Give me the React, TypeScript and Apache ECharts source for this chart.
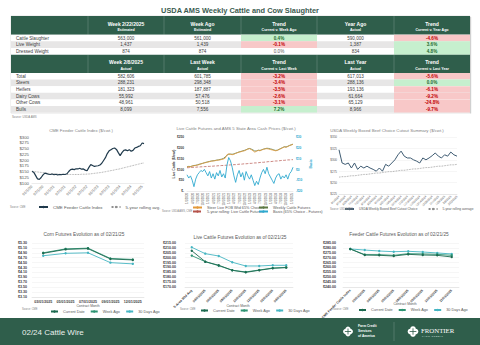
import { useEffect, useRef } from "react";
import * as echarts from "echarts";

const FONT = "'Liberation Sans', Arial, sans-serif";
const GREEN = "#2F5E4B";
const GREY_TXT = "#595959";

// ---------- Table data ----------
const t1Headers = [["", ""], ["Week 2/22/2025", "Estimated"], ["Week Ago", "Estimated"], ["Trend", "Current v. Week Ago"], ["Year Ago", "Actual"], ["Trend", "Current v. Year Ago"]];
const t1Rows = ["Cattle Slaughter", "Live Weight", "Dressed Weight"];
const t1Current = ["563,000", "1,437", "874"];
const t1Prior = ["561,000", "1,439", "874"];
const t1TrendPrior = ["0.4%", "-0.1%", "0.0%"];
const t1TrendPriorTone = ["pos", "neg", "zero"];
const t1YearAgo = ["590,000", "1,387", "834"];
const t1TrendYear = ["-4.6%", "3.6%", "4.8%"];
const t1TrendYearTone = ["neg", "pos", "pos"];

const t2Headers = [["", ""], ["Week 2/8/2025", "Actual"], ["Last Week", "Actual"], ["Trend", "Current v. Last Week"], ["Last Year", "Actual"], ["Trend", "Current v. Last Year"]];
const t2Rows = ["Total", "Steers", "Heifers", "Dairy Cows", "Other Cows", "Bulls"];
const t2Current = ["582,606", "288,231", "181,323", "55,992", "48,961", "8,099"];
const t2Prior = ["601,785", "298,348", "187,887", "57,476", "50,518", "7,556"];
const t2TrendPrior = ["-3.2%", "-3.4%", "-3.5%", "-2.6%", "-3.1%", "7.2%"];
const t2TrendPriorTone = ["neg", "neg", "neg", "neg", "neg", "pos"];
const t2YearAgo = ["617,013", "288,136", "193,136", "61,664", "65,129", "8,966"];
const t2TrendYear = ["-5.6%", "0.0%", "-6.1%", "-9.2%", "-24.8%", "-9.7%"];
const t2TrendYearTone = ["neg", "pos", "neg", "neg", "neg", "neg"];

// ---------- Chart data ----------
const years = [2020, 2021, 2022, 2023, 2024, 2025];
const monthsPerYear = [12, 12, 12, 12, 12, 2];
const cmeCats: string[] = [];
const lcMonthCats: string[] = [];
years.forEach((y, i) => {
  for (let m = 1; m <= monthsPerYear[i]; m++) {
    cmeCats.push(`${String(m).padStart(2, "0")}/1/${String(y).slice(2)}`);
    lcMonthCats.push(`${m}/1/${y}`);
  }
});

const cmeIndex = [151, 146, 132, 118, 116, 124, 135, 143, 141, 138, 137, 139, 136, 138, 135, 137, 136, 138, 137, 140, 150, 158, 160, 158, 162, 161, 164, 160, 161, 156, 153, 168, 180, 176, 172, 174, 175, 178, 186, 198, 210, 228, 240, 245, 250, 252, 246, 232, 219, 232, 242, 244, 240, 245, 238, 242, 252, 255, 259, 262, 274, 271];
const cmeRolling = [151, 150, 149, 148, 147, 146, 145, 144, 143, 142, 141, 140, 140, 139, 139, 138, 138, 138, 137, 137, 137, 137, 137, 137, 137, 137, 137, 138, 138, 138, 139, 139, 140, 141, 142, 143, 144, 145, 146, 148, 149, 151, 152, 154, 155, 157, 159, 160, 162, 164, 166, 168, 170, 172, 174, 176, 178, 180, 182, 184, 186, 187];

const lcCash = [111, 113, 112, 115, 117, 118, 120, 122, 125, 128, 130, 132, 134, 136, 138, 139, 140, 142, 143, 144, 146, 148, 152, 168, 172, 170, 168, 170, 174, 177, 180, 182, 184, 186, 190, 194, 196, 192, 186, 180, 184, 188, 186, 190, 193, 195, 196, 194, 192, 190, 188, 186, 188, 192, 196, 200, 204, 202, 206, 210, 213, 216];
const lcFutures = [112, 114, 113, 116, 118, 119, 121, 124, 126, 128, 131, 133, 135, 137, 139, 140, 141, 143, 144, 146, 148, 151, 158, 165, 170, 171, 170, 172, 175, 178, 181, 183, 186, 188, 191, 195, 197, 194, 190, 185, 186, 189, 188, 191, 194, 196, 198, 197, 195, 193, 190, 188, 189, 193, 197, 201, 205, 204, 207, 211, 214, 217];
const lcRolling = [108, 108, 109, 109, 110, 110, 111, 111, 112, 112, 113, 113, 114, 114, 115, 115, 116, 116, 117, 117, 118, 118, 119, 119, 120, 121, 121, 122, 122, 123, 124, 124, 125, 126, 126, 127, 128, 128, 129, 130, 130, 131, 132, 133, 133, 134, 135, 136, 136, 137, 138, 139, 139, 140, 141, 142, 142, 143, 144, 144, 145, 145];
const lcBasis = [-5, -8, -6, -10, -16, -9, -5, -3, -1, -2, 0, -3, -6, -2, -8, -4, -9, -3, -6, -1, -7, -4, -8, 4, 11, 8, 2, -6, -12, -5, -1, -7, -3, -10, -2, -6, -9, -5, -10, -15, -11, -14, -8, -3, 0, -4, 2, -4, -7, -10, -13, -8, -5, -4, -9, -6, -8, -5, -9, -4, -2, 2];

const beefWeeks = ["6/1/2024", "6/8/2024", "6/15/2024", "6/22/2024", "6/29/2024", "7/6/2024", "7/13/2024", "7/20/2024", "7/27/2024", "8/3/2024", "8/10/2024", "8/17/2024", "8/24/2024", "8/31/2024", "9/7/2024", "9/14/2024", "9/21/2024", "9/28/2024", "10/5/2024", "10/12/2024", "10/19/2024", "10/26/2024", "11/2/2024", "11/9/2024", "11/16/2024", "11/23/2024", "11/30/2024", "12/7/2024", "12/14/2024", "12/21/2024", "12/28/2024", "1/4/2025", "1/11/2025", "1/18/2025", "1/25/2025", "2/1/2025", "2/8/2025", "2/15/2025", "2/22/2025"];
const beefCutout = [322, 293, 290, 293, 282, 293, 279, 286, 282, 286, 282, 279, 275, 282, 275, 290, 286, 293, 300, 311, 319, 308, 304, 304, 300, 297, 293, 304, 300, 304, 309, 315, 308, 304, 311, 308, 317, 311, 308];
const beefRolling = [262, 263, 263, 264, 265, 265, 266, 267, 268, 268, 269, 270, 271, 271, 272, 273, 274, 274, 275, 276, 277, 277, 278, 279, 280, 280, 281, 282, 283, 283, 284, 285, 286, 286, 287, 288, 289, 289, 290];

const cornMonths = ["03/01/2025", "05/01/2025", "07/01/2025", "09/01/2025", "12/01/2025"];
const cornCurrent = [4.88, 5.04, 5.07, 4.65, 4.61];
const cornWeekAgo = [4.9, 5.06, 5.09, 4.67, 4.63];
const corn30Days = [4.78, 4.88, 4.9, 4.5, 4.45];

const lcContracts = ["5-Area Wtd Avg", "04/01/2025", "06/01/2025", "08/01/2025", "10/01/2025", "12/01/2025", "02/01/2026", "04/01/2026"];
const lcCurrent = [207.1, 195.9, 192.2, 187.1, 185.0, 187.1, 189.1, 189.8];
const lcWeekAgo = [202.1, 195.9, 191.8, 187.1, 185.4, 187.4, 189.4, 190.1];
const lc30Days = [210.6, 204.1, 201.7, 195.3, 191.5, 191.5, 192.2, 192.2];

const fcContracts = ["CME Feeder Cattle Index", "03/01/2025", "04/01/2025", "05/01/2025", "08/01/2025", "09/01/2025", "10/01/2025", "11/01/2025"];
const fcCurrent = [278.9, 272.7, 272.4, 271.7, 273.4, 272.7, 272.4, 270.7];
const fcWeekAgo = [278.9, 273.1, 273.1, 272.4, 274.1, 273.8, 273.4, 272.4];
const fc30Days = [278.9, 277.8, 276.8, 276.1, 276.5, 275.8, 274.8, 273.8];

// ---------- helpers ----------
function txt(x: number, y: number, text: string, size: number, color: string, o: any = {}) {
  const align = o.align || "left";
  return {
    type: "text", x, y, rotation: o.rotation || 0, silent: true, z: o.z || 10,
    style: {
      text, fill: color, fontSize: size, fontFamily: o.family || FONT,
      fontWeight: o.bold ? "bold" : "normal",
      align, verticalAlign: "middle", textAlign: align, textVerticalAlign: "middle",
    },
  };
}
function rect(x: number, y: number, w: number, h: number, fill: string, stroke?: string) {
  return { type: "rect", silent: true, z: 1, shape: { x, y, width: w, height: h }, style: { fill, stroke: stroke || null, lineWidth: stroke ? 0.5 : 0 } };
}
function line(x1: number, y1: number, x2: number, y2: number, color: string, w = 0.5) {
  return { type: "line", silent: true, z: 2, shape: { x1, y1, x2, y2 }, style: { stroke: color, lineWidth: w } };
}

const colX = [11, 88, 164, 241, 317, 394, 470];

function buildTable(top: number, headH: number, rowH: number, headers: string[][], rows: string[], cols: string[][], tones: (string[] | null)[]) {
  const els: any[] = [];
  els.push(rect(colX[0], top, colX[6] - colX[0], headH, GREEN));
  headers.forEach((h, c) => {
    const cx = (colX[c] + colX[c + 1]) / 2;
    if (h[0]) els.push(txt(cx, top + headH * 0.42, h[0], 5, "#FFFFFF", { align: "center", bold: true }));
    if (h[1]) els.push(txt(cx, top + headH * 0.77, h[1], 3.6, "#FFFFFF", { align: "center", bold: true }));
    if (c > 0) els.push(line(colX[c], top, colX[c], top + headH, "rgba(255,255,255,0.35)", 0.5));
  });
  rows.forEach((r, i) => {
    const y = top + headH + i * rowH;
    const bg = i % 2 === 0 ? "#FFFFFF" : "#E7E6E6";
    els.push(rect(colX[0], y, colX[6] - colX[0], rowH, bg));
    els.push(txt(colX[0] + 5, y + rowH / 2, r, 4.6, "#404040"));
    cols.forEach((col, c) => {
      const cx = (colX[c + 1] + colX[c + 2]) / 2;
      const tone = tones[c] ? tones[c]![i] : null;
      let color = "#404040";
      let bold = false;
      if (tone === "pos") {
        els.push(rect(colX[c + 1], y, colX[c + 2] - colX[c + 1], rowH, "#C6EFCE"));
        color = "#1E6B2E"; bold = true;
      } else if (tone === "neg") {
        els.push(rect(colX[c + 1], y, colX[c + 2] - colX[c + 1], rowH, "#F8C8C8"));
        color = "#C00000"; bold = true;
      } else if (tone === "zero") {
        color = "#595959";
      }
      els.push(txt(cx, y + rowH / 2, col[i], 4.6, color, { align: "center", bold }));
    });
  });
  return els;
}

function flower(cx: number, cy: number, r: number) {
  const els: any[] = [];
  [[0, -1], [1, 0], [0, 1], [-1, 0]].forEach(([dx, dy]) => {
    els.push({ type: "circle", silent: true, z: 5, shape: { cx: cx + dx * r * 0.9, cy: cy + dy * r * 0.9, r: r }, style: { fill: "#FFFFFF" } });
  });
  els.push({ type: "rect", silent: true, z: 6, shape: { x: cx - 0.4, y: cy - r * 1.2, width: 0.8, height: r * 2.4 }, style: { fill: GREEN } });
  els.push({ type: "rect", silent: true, z: 6, shape: { x: cx - r * 1.2, y: cy - 0.4, width: r * 2.4, height: 0.8 }, style: { fill: GREEN } });
  return els;
}

function buildOption() {
  const axisLbl = { fontSize: 3.8, color: GREY_TXT, fontFamily: FONT };
  const split = { show: true, lineStyle: { color: "#EDEDED", width: 0.5 } };
  const noLine = { show: false };
  const xLine = { show: true, lineStyle: { color: "#D9D9D9", width: 0.5 } };
  const grid = (left: number, top: number, width: number, height: number) => ({ left, top, width, height, containLabel: false, outerBoundsMode: "none" });
  const legendText = { fontSize: 3.8, color: GREY_TXT, fontFamily: FONT };
  const mkLegend = (left: number, top: number, data: string[], extra: any = {}) => ({
    left, top, data, itemWidth: 9, itemHeight: 3, itemGap: 6, padding: 0, textStyle: legendText, selectedMode: false, ...extra,
  });
  const evoSeries = (xi: number, yi: number, cur: number[], wk: number[], d30: number[]) => [
    { name: "30 Days Ago", type: "line", xAxisIndex: xi, yAxisIndex: yi, data: d30, symbol: "circle", symbolSize: 2.4, itemStyle: { color: "#45B5C2" }, lineStyle: { width: 0.9, color: "#45B5C2" } },
    { name: "Week Ago", type: "line", xAxisIndex: xi, yAxisIndex: yi, data: wk, symbol: "circle", symbolSize: 2.4, itemStyle: { color: "#2E9473" }, lineStyle: { width: 0.9, color: "#2E9473" } },
    { name: "Current Date", type: "line", xAxisIndex: xi, yAxisIndex: yi, data: cur, symbol: "circle", symbolSize: 2.4, itemStyle: { color: "#1C6A50" }, lineStyle: { width: 0.9, color: "#1C6A50" } },
  ];
  const evoLegendData = ["Current Date", "Week Ago", "30 Days Ago"];

  const graphic: any[] = [];
  graphic.push(txt(240, 10.5, "USDA AMS Weekly Cattle and Cow Slaughter", 7.4, "#3B5B50", { align: "center", bold: true }));
  graphic.push(rect(colX[0], 16, colX[6] - colX[0], 97, "#FFFFFF", "#C9C9C9"));
  graphic.push(...buildTable(16, 18.7, 6.67, t1Headers, t1Rows, [t1Current, t1Prior, t1TrendPrior, t1YearAgo, t1TrendYear], [null, null, t1TrendPriorTone, null, t1TrendYearTone]));
  graphic.push(...buildTable(54.7, 18.3, 6.6, t2Headers, t2Rows, [t2Current, t2Prior, t2TrendPrior, t2YearAgo, t2TrendYear], [null, null, t2TrendPriorTone, null, t2TrendYearTone]));
  graphic.push(rect(colX[6], 17, 1.2, 96.5, "#D0D0D0"));
  graphic.push(txt(12, 117, "Source: USDA AMS", 2.8, "#7F7F7F"));

  // chart titles
  graphic.push(txt(81, 130, "CME Feeder Cattle Index ($/cwt.)", 4.3, "#7F7F7F", { align: "center" }));
  graphic.push(txt(236, 128.5, "Live Cattle Futures and AMS 5 State Area Cash Prices ($/cwt.)", 4.3, "#7F7F7F", { align: "center" }));
  graphic.push(txt(387, 130, "USDA Weekly Boxed Beef Choice Cutout Summary ($/cwt.)", 4.3, "#7F7F7F", { align: "center" }));
  graphic.push(txt(84, 234, "Corn Futures Evolution as of 02/21/25", 4.8, GREY_TXT, { align: "center" }));
  graphic.push(txt(240, 237, "Live Cattle Futures Evolution as of 02/21/25", 4.8, GREY_TXT, { align: "center" }));
  graphic.push(txt(399, 234, "Feeder Cattle Futures Evolution as of 02/21/25", 4.8, GREY_TXT, { align: "center" }));

  // axis names
  graphic.push(txt(174, 164, "Live Cattle ($/cwt)", 3.4, "#404040", { align: "center", bold: true, rotation: Math.PI / 2 }));
  graphic.push(txt(311, 164, "Basis", 3.4, "#2FA9CF", { align: "center", bold: true, rotation: Math.PI / 2 }));
  graphic.push(txt(88, 305.5, "Contract Month", 3.4, GREY_TXT, { align: "center" }));
  graphic.push(txt(238, 305.5, "Contract Month", 3.4, GREY_TXT, { align: "center" }));
  graphic.push(txt(405, 303.5, "Contract Month", 3.4, GREY_TXT, { align: "center" }));

  // sources
  graphic.push(txt(10, 207, "Source: CME", 2.6, "#7F7F7F"));
  graphic.push(txt(162, 211, "Source: USDA AMS, CME", 2.6, "#7F7F7F"));
  graphic.push(txt(330, 209, "Source: USDA AMS", 2.6, "#7F7F7F"));
  graphic.push(txt(22, 309, "Source: CME", 2.6, "#7F7F7F"));
  graphic.push(txt(180, 309, "Source: CME", 2.6, "#7F7F7F"));
  graphic.push(txt(333, 309, "Source: CME", 2.6, "#7F7F7F"));

  // footer
  graphic.push(rect(0, 318, 480, 27, GREEN));
  graphic.push(txt(22, 332, "02/24 Cattle Wire", 8, "#EAF0EC"));
  graphic.push(...flower(348, 331.5, 2.6));
  graphic.push(txt(358, 326, "Farm Credit", 3.3, "#FFFFFF", { bold: true }));
  graphic.push(txt(358, 331, "Services", 3.3, "#FFFFFF", { bold: true }));
  graphic.push(txt(358, 336, "of America", 3.3, "#FFFFFF", { bold: true }));
  graphic.push({ ...line(394, 322, 394, 341, "rgba(255,255,255,0.35)", 0.5), z: 5 });
  graphic.push(...flower(413, 331.5, 2.8));
  graphic.push(txt(421, 330, "FRONTIER", 6.8, "#FFFFFF", { family: "'Liberation Serif', serif" }));
  graphic.push(txt(422, 336, "F A R M   C R E D I T", 2.2, "#DDE6E0"));

  return {
    animation: false,
    backgroundColor: "#FFFFFF",
    textStyle: { fontFamily: FONT },
    graphic: { elements: graphic },
    grid: [
      grid(32, 137, 112, 46),
      grid(187, 137, 106, 54),
      grid(339, 137, 118, 57),
      grid(32, 243, 112, 54),
      grid(185, 243, 108, 44),
      grid(343, 243, 116, 44),
    ],
    legend: [
      mkLegend(38, 205, ["CME Feeder Cattle Index", "5-year rolling avg."], { itemGap: 8, textStyle: { ...legendText, fontSize: 4.4 } }),
      mkLegend(192, 205.5, ["Steer Live FOB Wtd 65% Choice"]),
      mkLegend(258, 205.5, ["Weekly Cattle Futures"]),
      mkLegend(192, 209.5, ["5-year rolling: Live Cattle Futures"]),
      mkLegend(258, 209.5, ["Basis (65% Choice - Futures)"]),
      mkLegend(344, 207.5, ["USDA Weekly Boxed Beef Cutout Choice", "5-year rolling average"], { itemGap: 10, textStyle: { ...legendText, fontSize: 3.2 } }),
      mkLegend(50, 309.5, evoLegendData, { itemGap: 5, itemWidth: 7 }),
      mkLegend(200, 308.5, evoLegendData, { itemGap: 5, itemWidth: 7 }),
      mkLegend(358, 308, evoLegendData, { itemGap: 5, itemWidth: 7 }),
    ],
    xAxis: [
      { type: "category", gridIndex: 0, data: cmeCats, boundaryGap: false, axisLine: xLine, axisTick: noLine, axisLabel: { ...axisLbl, interval: 5, rotate: 45, margin: 3 } },
      { type: "category", gridIndex: 1, data: lcMonthCats, boundaryGap: false, axisLine: xLine, axisTick: noLine, axisLabel: { ...axisLbl, fontSize: 2.8, interval: 2, rotate: 90, margin: 2 } },
      { type: "category", gridIndex: 2, data: beefWeeks, boundaryGap: false, axisLine: xLine, axisTick: noLine, axisLabel: { ...axisLbl, fontSize: 2.8, interval: 1, rotate: 45, margin: 2 } },
      { type: "category", gridIndex: 3, data: cornMonths, boundaryGap: true, axisLine: xLine, axisTick: noLine, axisLabel: { ...axisLbl, color: "#404040", fontWeight: "bold", fontSize: 3.6, interval: 0, margin: 3 } },
      { type: "category", gridIndex: 4, data: lcContracts, boundaryGap: true, axisLine: xLine, axisTick: noLine, axisLabel: { ...axisLbl, color: "#404040", fontWeight: "bold", fontSize: 3.4, interval: 0, rotate: 45, margin: 3 } },
      { type: "category", gridIndex: 5, data: fcContracts, boundaryGap: true, axisLine: xLine, axisTick: noLine, axisLabel: { ...axisLbl, color: "#404040", fontWeight: "bold", fontSize: 3.4, interval: 0, rotate: 45, margin: 3 } },
    ],
    yAxis: [
      { type: "value", gridIndex: 0, min: 100, max: 300, interval: 25, axisLine: noLine, axisTick: noLine, splitLine: { show: false }, axisLabel: { ...axisLbl, fontSize: 4.3, margin: 3, formatter: (v: number) => "$" + v } },
      { type: "value", gridIndex: 1, min: 0, max: 250, interval: 50, axisLine: noLine, axisTick: noLine, splitLine: { show: false }, axisLabel: { ...axisLbl, fontSize: 3.2, fontWeight: "bold", color: "#404040", margin: 3, formatter: (v: number) => (v === 0 ? "$-" : "$" + v) } },
      { type: "value", gridIndex: 1, position: "right", min: -20, max: 30, interval: 10, axisLine: noLine, axisTick: noLine, splitLine: { show: false }, axisLabel: { ...axisLbl, fontSize: 3.2, fontWeight: "bold", color: "#2FA9CF", margin: 3, formatter: (v: number) => (v < 0 ? "-$" + Math.abs(v) : "$" + v) } },
      { type: "value", gridIndex: 2, min: 225, max: 350, interval: 25, axisLine: noLine, axisTick: noLine, splitLine: split, axisLabel: { ...axisLbl, fontSize: 3, margin: 2, formatter: (v: number) => "$" + v } },
      { type: "value", gridIndex: 3, min: 3.1, max: 5.3, interval: 0.2, axisLine: noLine, axisTick: noLine, splitLine: split, axisLabel: { ...axisLbl, color: "#404040", fontWeight: "bold", fontSize: 3.6, margin: 5, formatter: (v: number) => "$" + v.toFixed(2) } },
      { type: "value", gridIndex: 4, min: 170, max: 215, interval: 5, axisLine: noLine, axisTick: noLine, splitLine: split, axisLabel: { ...axisLbl, color: "#404040", fontWeight: "bold", fontSize: 3.6, margin: 9, formatter: (v: number) => "$" + v.toFixed(2) } },
      { type: "value", gridIndex: 5, min: 240, max: 285, interval: 5, axisLine: noLine, axisTick: noLine, splitLine: split, axisLabel: { ...axisLbl, color: "#404040", fontWeight: "bold", fontSize: 3.6, margin: 7, formatter: (v: number) => "$" + v.toFixed(2) } },
    ],
    series: [
      { name: "5-year rolling avg.", type: "line", xAxisIndex: 0, yAxisIndex: 0, data: cmeRolling, symbol: "none", itemStyle: { color: "#8F8F8F" }, lineStyle: { color: "#8F8F8F", width: 0.8, type: "dotted" } },
      { name: "CME Feeder Cattle Index", type: "line", xAxisIndex: 0, yAxisIndex: 0, data: cmeIndex, symbol: "none", itemStyle: { color: "#203A4C" }, lineStyle: { color: "#203A4C", width: 1.2 } },

      { name: "5-year rolling: Live Cattle Futures", type: "line", xAxisIndex: 1, yAxisIndex: 1, data: lcRolling, symbol: "none", itemStyle: { color: "#B5524A" }, lineStyle: { color: "#B5524A", width: 0.7, type: "dashed" } },
      { name: "Basis (65% Choice - Futures)", type: "line", xAxisIndex: 1, yAxisIndex: 2, data: lcBasis, symbol: "none", itemStyle: { color: "#2FA9CF" }, lineStyle: { color: "#2FA9CF", width: 0.9 } },
      { name: "Weekly Cattle Futures", type: "line", xAxisIndex: 1, yAxisIndex: 1, data: lcFutures, symbol: "none", itemStyle: { color: "#5E7A45" }, lineStyle: { color: "#5E7A45", width: 0.8 } },
      { name: "Steer Live FOB Wtd 65% Choice", type: "line", xAxisIndex: 1, yAxisIndex: 1, data: lcCash, symbol: "none", itemStyle: { color: "#E39A3B" }, lineStyle: { color: "#E39A3B", width: 0.8 } },

      { name: "5-year rolling average", type: "line", xAxisIndex: 2, yAxisIndex: 3, data: beefRolling, symbol: "none", itemStyle: { color: "#8F8F8F" }, lineStyle: { color: "#8F8F8F", width: 0.8, type: "dotted" } },
      { name: "USDA Weekly Boxed Beef Cutout Choice", type: "line", xAxisIndex: 2, yAxisIndex: 3, data: beefCutout, symbol: "none", itemStyle: { color: "#3E5B72" }, lineStyle: { color: "#3E5B72", width: 1 } },

      ...evoSeries(3, 4, cornCurrent, cornWeekAgo, corn30Days),
      ...evoSeries(4, 5, lcCurrent, lcWeekAgo, lc30Days),
      ...evoSeries(5, 6, fcCurrent, fcWeekAgo, fc30Days),
    ],
  };
}

export default function App() {
  const ref = useRef<HTMLDivElement>(null);
  useEffect(() => {
    const chart = echarts.init(ref.current!, null, { renderer: "svg" });
    chart.setOption(buildOption() as any);
    return () => chart.dispose();
  }, []);
  return <div ref={ref} style={{ position: "absolute", left: 0, top: 0, width: 480, height: 345, background: "#FFFFFF" }} />;
}
